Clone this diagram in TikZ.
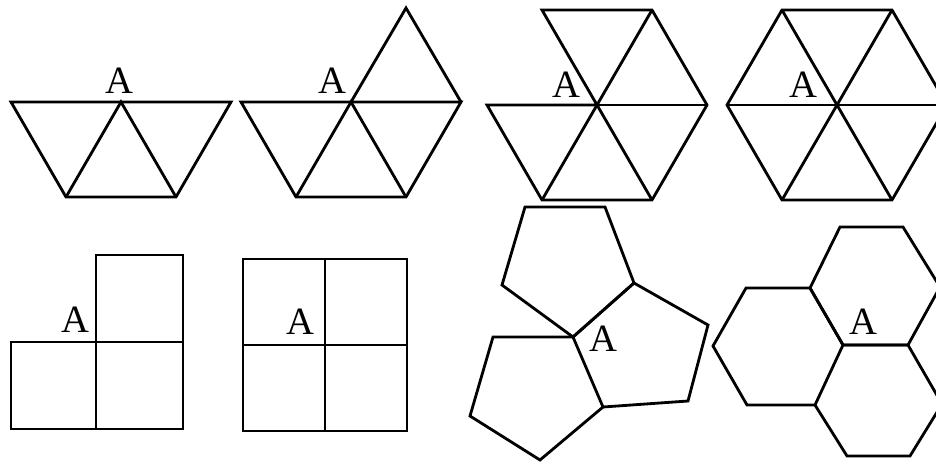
\documentclass[tikz,border=0pt]{standalone}
\usepackage{fontspec}
\setmainfont{Liberation Serif}
\usetikzlibrary{calc}

\begin{document}
\begin{tikzpicture}[x=0.02cm, y=-0.02cm,
    tile/.style={draw=black, line width=1.6pt, line join=miter},
    vlabel/.style={inner sep=0pt, font=\fontsize{22}{26}\selectfont}]
  \useasboundingbox (0,0) rectangle (936,463);
  \clip (0,0) rectangle (936,463);

  % three triangles
  \coordinate (ta) at (121,102);
  \coordinate (tl) at (11,102);
  \coordinate (tr) at (231,102);
  \coordinate (tbl) at (66,197);
  \coordinate (tbr) at (176,197);
  \draw[tile] (tl) -- (tr) -- (tbr) -- (tbl) -- cycle;
  \draw[tile] (tbl) -- (ta) -- (tbr);
  \node[vlabel] (a1) at (119,81) {A};

  % four triangles
  \coordinate (fa) at (351,102);
  \coordinate (fl) at (241,102);
  \coordinate (fr) at (461,102);
  \coordinate (ftop) at (406,8);
  \coordinate (fbl) at (296,197);
  \coordinate (fbr) at (406,197);
  \draw[tile] (fl) -- (fr) -- (fbr) -- (fbl) -- cycle;
  \draw[tile] (fbl) -- (fa) -- (fbr);
  \draw[tile] (fa) -- (ftop) -- (fr);
  \node[vlabel] (a2) at (332,81) {A};

  % five triangles
  \coordinate (pa) at (597,105);
  \coordinate (pe) at (707,105);
  \coordinate (pne) at (652,10);
  \coordinate (pnw) at (542,10);
  \coordinate (pw) at (487,105);
  \coordinate (psw) at (542,200);
  \coordinate (pse) at (652,200);
  \draw[tile] (pa) -- (pnw) -- (pne) -- (pe) -- (pse) -- (psw) -- (pw) -- cycle;
  \draw[tile] (pe) -- (pw);
  \draw[tile] (pne) -- (psw);
  \draw[tile] (pa) -- (pse);
  \node[vlabel] (a3) at (566,85) {A};

  % six triangles
  \coordinate (ha) at (837,105);
  \coordinate (he) at (947,105);
  \coordinate (hne) at (892,10);
  \coordinate (hnw) at (782,10);
  \coordinate (hw) at (727,105);
  \coordinate (hsw) at (782,200);
  \coordinate (hse) at (892,200);
  \draw[tile] (he) -- (hne) -- (hnw) -- (hw) -- (hsw) -- (hse) -- cycle;
  \foreach \u/\v in {he/hw, hne/hsw, hnw/hse}
    \draw[tile] (\u) -- (\v);
  \node[vlabel] (a4) at (803,85) {A};

  % three squares
  \coordinate (qa) at (96,342);
  \draw[tile] (96,255) rectangle (183,429);
  \draw[tile] (11,342) rectangle (183,429);
  \node[vlabel] (a5) at (75,320) {A};

  % four squares
  \coordinate (ga) at (325,345);
  \draw[tile] (243,259) rectangle (407,431);
  \draw[tile] (325,259) -- (325,431);
  \draw[tile] (243,345) -- (407,345);
  \node[vlabel] (a6) at (300,322) {A};

  % three pentagons
  \coordinate (na) at (573,337);
  \coordinate (n1) at (634,283);
  \coordinate (n2) at (603,407);
  \draw[tile] (na) -- (502,285) -- (525,207) -- (605,207) -- (n1) -- cycle;
  \draw[tile] (na) -- (n1) -- (708,325) -- (688,401) -- (n2) -- cycle;
  \draw[tile] (na) -- (493,337) -- (470,416) -- (540,460) -- (n2);
  \node[vlabel] (a7) at (603,339) {A};

  % three hexagons
  \coordinate (xa) at (843,345);
  \coordinate (x1) at (810,288);
  \coordinate (x2) at (815,405);
  \coordinate (x3) at (908,345);
  \draw[tile] (xa) -- (x1) -- (840,227) -- (903,227) -- (940,287) -- (x3) -- cycle;
  \draw[tile] (xa) -- (x1) -- (746,288) -- (713,346) -- (747,405) -- (x2) -- cycle;
  \draw[tile] (xa) -- (x3) -- (942,404) -- (910,456) -- (847,456) -- (x2);
  \node[vlabel] (a8) at (863,322) {A};
\end{tikzpicture}
\end{document}
